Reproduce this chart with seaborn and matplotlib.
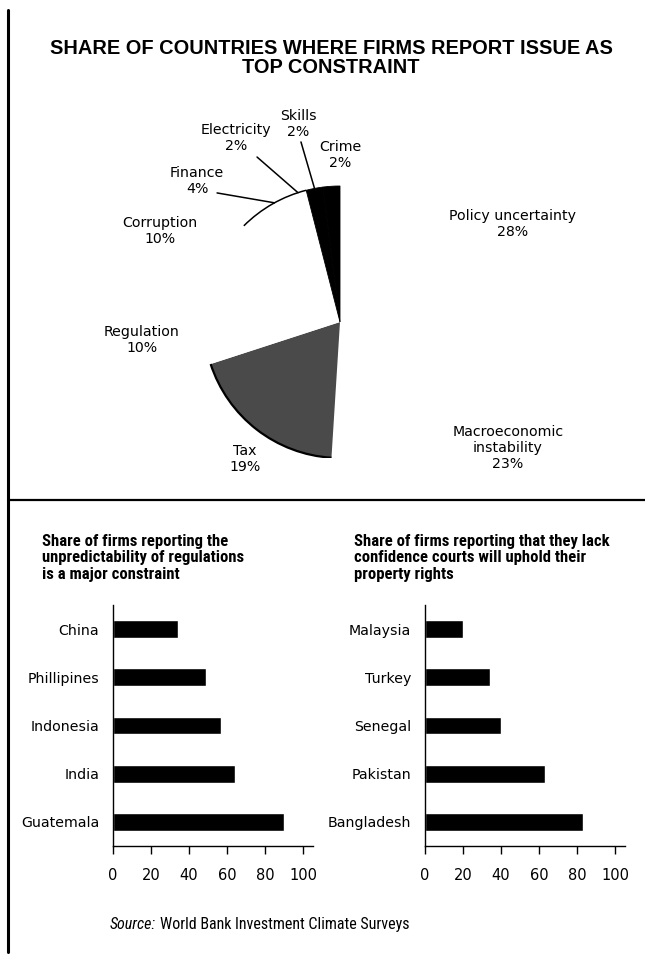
import numpy as np
import matplotlib
matplotlib.use("Agg")
import matplotlib.pyplot as plt
from matplotlib import font_manager
from matplotlib.patches import Arc
from matplotlib.lines import Line2D
import seaborn as sns

# --- data ---
pie_labels = ["Policy uncertainty", "Macroeconomic\ninstability", "Tax", "Regulation",
              "Corruption", "Finance", "Electricity", "Skills", "Crime"]
pie_shares = [28, 23, 19, 10, 10, 4, 2, 2, 2]
pie_colors = ["white", "white", "#4a4a4a", "white", "white", "white", "white", "black", "black"]

left_countries = ["China", "Phillipines", "Indonesia", "India", "Guatemala"]
left_values = [34, 49, 57, 64, 90]
right_countries = ["Malaysia", "Turkey", "Senegal", "Pakistan", "Bangladesh"]
right_values = [20, 34, 40, 63, 83]
x_ticks = [0, 20, 40, 60, 80, 100]

sns.set_theme(style="white")
plt.rcParams["font.family"] = ["DejaVu Sans"]
for k in ["text.color", "axes.labelcolor", "xtick.color", "ytick.color"]:
    plt.rcParams[k] = "black"

# pick a condensed face for the bold sub-headings if one is around
fonts = font_manager.fontManager.ttflist
if any(f.name == "Roboto Condensed" for f in fonts):
    narrow = dict(family=["Roboto Condensed", "DejaVu Sans"], fontsize=12)
elif any(f.name == "Liberation Sans Narrow" for f in fonts):
    narrow = dict(family=["Liberation Sans Narrow", "DejaVu Sans"], fontsize=12)
elif any(f.name == "DejaVu Sans" and f.stretch == "condensed" for f in fonts):
    narrow = dict(family=["DejaVu Sans"], fontstretch="condensed", fontsize=10.5)
else:
    narrow = dict(family=["Roboto", "DejaVu Sans"], fontsize=9.6)

W, H = 645, 955
fig = plt.figure(figsize=(W / 100, H / 100), dpi=100)


def fx(px):
    return px / W


def fy(py):
    return 1 - py / H


# frame lines
fig.add_artist(Line2D([fx(8), fx(8)], [fy(10), fy(952)], color="black", lw=2.2))
fig.add_artist(Line2D([fx(8), fx(645)], [fy(500), fy(500)], color="black", lw=1.6))

fig.text(fx(331), fy(58), "SHARE OF COUNTRIES WHERE FIRMS REPORT ISSUE AS\nTOP CONSTRAINT",
         ha="center", va="center", fontsize=14.4, fontweight="bold",
         family=["Liberation Sans", "DejaVu Sans"], linespacing=1.05)

# --- pie ---
cx, cy, r = 340, 322, 136
ax_pie = fig.add_axes([fx(cx - r), fy(cy + r), 2 * r / W, 2 * r / H])
wedges, _ = ax_pie.pie(pie_shares, colors=pie_colors, startangle=90, counterclock=False,
                       wedgeprops=dict(linewidth=0))
for w, c in zip(wedges, pie_colors):
    if c == "black":
        w.set_edgecolor("black")
        w.set_linewidth(0.6)
ax_pie.set_xlim(-1, 1)
ax_pie.set_ylim(-1, 1)
ax_pie.set_aspect("auto")
ax_pie.axis("off")

total = sum(pie_shares)
cum = np.cumsum([0] + pie_shares) / total * 360  # clockwise from 12 o'clock


def math_angle(a):
    return 90 - a


# outline arcs that survive in the scan
tax_i, fin_i, ele_i = 2, 5, 6
ax_pie.add_patch(Arc((0, 0), 2, 2, theta1=math_angle(cum[tax_i + 1]),
                     theta2=math_angle(cum[tax_i]), color="black", lw=1.6))
ax_pie.add_patch(Arc((0, 0), 2, 2, theta1=math_angle(cum[ele_i + 1]),
                     theta2=math_angle(cum[fin_i]) + 9, color="black", lw=1.1))

label_pos = {
    "Policy uncertainty": (1.272, 0.721),
    "Macroeconomic\ninstability": (1.235, -0.926),
    "Tax": (-0.699, -1.007),
    "Regulation": (-1.456, -0.132),
    "Corruption": (-1.324, 0.669),
    "Finance": (-1.051, 1.037),
    "Electricity": (-0.765, 1.353),
    "Skills": (-0.309, 1.456),
    "Crime": (0.0, 1.228),
}
leader_start = {
    "Finance": (-0.904, 0.949),
    "Electricity": (-0.610, 1.213),
    "Skills": (-0.287, 1.324),
}
for i, (lab, val) in enumerate(zip(pie_labels, pie_shares)):
    tx, ty = label_pos[lab]
    ax_pie.text(tx, ty, f"{lab}\n{val}%", ha="center", va="center", fontsize=10.2,
                linespacing=1.15, clip_on=False)
    if lab in leader_start:
        mid = np.deg2rad(math_angle((cum[i] + cum[i + 1]) / 2))
        sx, sy = leader_start[lab]
        ax_pie.plot([sx, np.cos(mid)], [sy, np.sin(mid)], color="black", lw=1.1,
                    clip_on=False)


# --- bar charts ---
def bar_panel(left_px, countries, values, title):
    ax = fig.add_axes([fx(left_px), fy(846), 105 * 1.9 / W, (846 - 605) / H])
    sns.barplot(x=values, y=countries, orient="h", color="black", width=0.37,
                saturation=1, ax=ax)
    ax.set_xlim(0, 105)
    ax.set_ylim(4.5, -0.5)
    ax.set_xticks(x_ticks)
    ax.set_xlabel("")
    ax.set_ylabel("")
    for s in ["top", "right"]:
        ax.spines[s].set_visible(False)
    for s in ["left", "bottom"]:
        ax.spines[s].set_color("black")
        ax.spines[s].set_linewidth(1.0)
    ax.tick_params(axis="x", bottom=True, length=6, width=1, direction="out",
                   labelsize=10.5, pad=10, colors="black")
    ax.tick_params(axis="y", left=False, labelsize=10.2, pad=4, colors="black")
    fig.text(fx(left_px - 71), fy(534), title, ha="left", va="top",
             fontweight="bold", linespacing=1.12, **narrow)
    return ax


bar_panel(113, left_countries, left_values,
          "Share of firms reporting the\nunpredictability of regulations\nis a major constraint")
bar_panel(425, right_countries, right_values,
          "Share of firms reporting that they lack\nconfidence courts will uphold their\nproperty rights")

# source line
src_font = dict(narrow)
src_font["fontsize"] = narrow["fontsize"] - 0.5
src = fig.text(fx(110), fy(924), "Source:", ha="left", va="center", style="italic", **src_font)
fig.canvas.draw()
bb = src.get_window_extent()
fig.text(bb.x1 / W + fx(4), fy(924), "World Bank Investment Climate Surveys", ha="left",
         va="center", **src_font)

fig.savefig("out.png", dpi=100)
